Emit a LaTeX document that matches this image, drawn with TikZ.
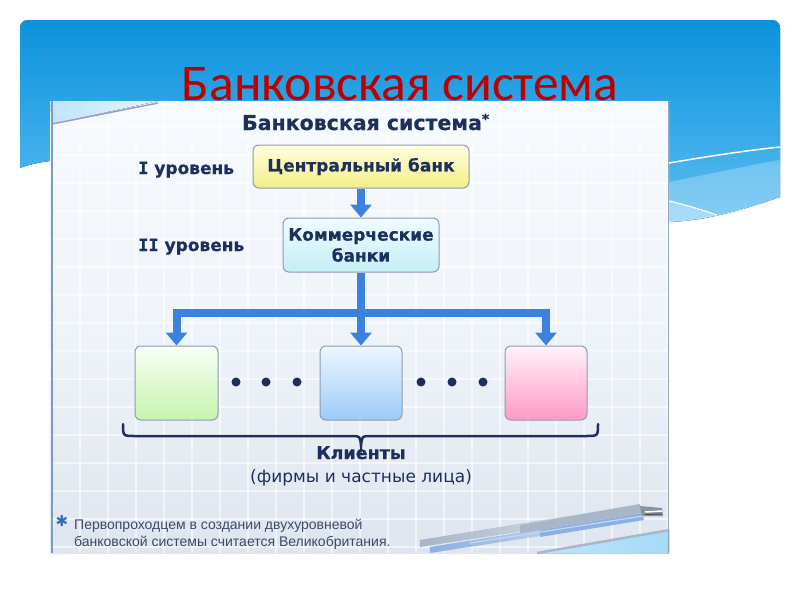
\documentclass[tikz,border=0pt]{standalone}
\usepackage{fontspec}
\setmainfont{DejaVu Sans}[BoldFeatures={FakeBold=0.6}]
\newfontfamily\carl{Carlito}
\newfontfamily\libs{Liberation Sans}
\newfontfamily\monob{DejaVu Sans Mono}[FakeBold=0.6]
\newfontfamily\djv{DejaVu Sans}
\usetikzlibrary{arrows.meta,fadings}
\definecolor{navy}{HTML}{1E2F5C}
\definecolor{bannertop}{HTML}{0B92DC}
\definecolor{bannerbot}{HTML}{5CBDF2}
\definecolor{titlered}{HTML}{BC0000}
\definecolor{arrowblue}{HTML}{3B82E0}
\definecolor{boxedge}{HTML}{8C9CB4}
\definecolor{panelbg}{HTML}{EFF4FA}
\definecolor{paneltop}{HTML}{F7FAFE}
\definecolor{panelbot}{HTML}{DFE5EE}
\definecolor{notecol}{HTML}{3C4A68}
\definecolor{ytop}{HTML}{FFFFDE}
\definecolor{ybot}{HTML}{F3EE86}
\definecolor{ctop}{HTML}{F0FCFF}
\definecolor{cbot}{HTML}{C4EEF7}
\definecolor{gtop}{HTML}{F8FFF4}
\definecolor{gbot}{HTML}{C6F4AE}
\definecolor{btop}{HTML}{EEF6FF}
\definecolor{bbot}{HTML}{9CCBF8}
\definecolor{ptop}{HTML}{FFF2F8}
\definecolor{pbot}{HTML}{FF99C6}
\definecolor{pengrey}{HTML}{A9B6C8}
\definecolor{penblue}{HTML}{6E9CDA}
\newcommand\bannerpath{(20,168) [rounded corners=8pt] -- (20,20) -- (780,20) [sharp corners] -- (780,197) .. controls (735,213) and (700,221) .. (668,222) -- (60,160) .. controls (45,161) and (30,164) .. (20,168) -- cycle}
\tikzset{
  boxbase/.style={draw=boxedge, line width=1pt, rounded corners=6pt, inner sep=0pt, text=navy,
    font=\bfseries\fontsize{17}{21}\selectfont, align=center},
  lvl/.style={font=\bfseries\fontsize{17}{20}\selectfont, text=navy, anchor=base west, inner sep=0pt},
  bline/.style={line width=8pt, color=arrowblue, line join=miter},
  barrow/.style={bline, -{Triangle[width=21pt,length=13pt]}},
  dotmark/.style={fill=navy},
}
\begin{document}
\begin{tikzpicture}[x=1pt,y=-1pt]
\useasboundingbox (0,0) rectangle (800,600);
\fill[white] (0,0) rectangle (800,600);
% banner
\fill[top color=bannertop, bottom color=bannerbot] \bannerpath;
\begin{scope}
  \clip \bannerpath;
  \fill[white, fill opacity=0.25] (669,182) .. controls (720,172) and (750,165) .. (780,160) -- (780,230) -- (669,230) -- cycle;
  \fill[white, fill opacity=0.3] (669,201) .. controls (690,206) and (705,211) .. (717,215) .. controls (740,210) and (760,204) .. (780,197) -- (780,230) -- (669,230) -- cycle;
  \draw[white, line width=1.5pt] (669,163) .. controls (710,156) and (750,150) .. (780,147);
  \draw[white, line width=1.2pt] (669,201) .. controls (690,206) and (705,211) .. (717,215);
\end{scope}
% main title
\node[font=\carl\fontsize{51.5}{56}\selectfont, text=titlered, anchor=base, inner sep=0pt] (title) at (400,100) {Банковская система};
% panel
\fill[top color=paneltop, bottom color=panelbot, middle color=panelbg] (50,101) rectangle (669,553);
\begin{scope}
  \clip (50,101) rectangle (669,553);
  \foreach \gx in {80,108,...,669} \draw[white, line width=1.3pt, opacity=0.55] (\gx,101) -- (\gx,553);
  \foreach \gy in {127,155,...,553} \draw[white, line width=1.3pt, opacity=0.55] (50,\gy) -- (669,\gy);
  % bottom right corner
  \fill[left color=white!60!bannerbot, right color=bannerbot!55!white] (537,553) -- (670,530) -- (670,553) -- cycle;
  \draw[color=pengrey, line width=2.5pt] (537,553) -- (670,530);
  % pen
  \fill[pengrey, path fading=east] (420,540) -- (640,504) -- (642,513) -- (420,547) -- cycle;
  \fill[pengrey] (520,525) -- (640,504) -- (642,513) -- (520,533) -- cycle;
  \fill[penblue!80!white, path fading=east] (430,547) -- (642,513) -- (644,520) -- (430,553) -- cycle;
  \fill[penblue!80!white] (540,530) -- (642,513) -- (644,520) -- (540,537) -- cycle;
  \draw[white!60!penblue, line width=1.2pt] (470,543) -- (643,516);
  \fill[pengrey!80!black] (640,506) -- (662,508) -- (663,516) -- (642,516) -- cycle;
  \draw[white, line width=1.5pt] (645,512) -- (662,511);
  \draw[black!70, line width=1pt] (645,514.5) -- (662,514);
  % top-left fold
  \fill[left color=white!60!bannerbot, right color=white!85!bannerbot] (50,101) -- (158,101) -- (52,124) -- cycle;
  \draw[color=gray!70!blue!60, line width=1.5pt] (52,124) -- (158,103);
\end{scope}
\draw[draw=arrowblue!50!gray!80, line width=2pt] (52,101) -- (52,553);
\draw[draw=arrowblue!40!gray!70, line width=1pt] (668.5,101) -- (668.5,553);
% diagram
\node[font=\bfseries\fontsize{20.5}{24}\selectfont, text=navy, anchor=base, inner sep=0pt] (ptitle) at (362,130) {Банковская система\rlap{\raisebox{6pt}{\fontsize{14}{14}\selectfont*}}};
\node[lvl] (l1) at (138,174) {{\monob I} уровень};
\node[lvl] (l2) at (138,251) {{\monob II} уровень};
\node[boxbase, minimum width=216pt, minimum height=43pt, top color=ytop, bottom color=ybot] (cb) at (361,166.5) {Центральный банк};
\node[boxbase, minimum width=156pt, minimum height=54pt, top color=ctop, bottom color=cbot] (b2) at (361,245) {Коммерческие\\банки};
\node[boxbase, minimum width=83pt, minimum height=74pt, top color=gtop, bottom color=gbot] (gbox) at (176.5,383) {};
\node[boxbase, minimum width=82pt, minimum height=74pt, top color=btop, bottom color=bbot] (bbox) at (361,383) {};
\node[boxbase, minimum width=82pt, minimum height=74pt, top color=ptop, bottom color=pbot] (rbox) at (546,383) {};
\coordinate (jM) at (361,313);
\draw[barrow] (cb.south) -- (b2.north);
\draw[bline] (b2.south) -- (jM);
\draw[barrow] (jM) -| (gbox.north);
\draw[barrow] (jM) -| (rbox.north);
\draw[barrow] (jM) -- (bbox.north);
\foreach \dx in {236,266,297,421,452,483} \fill[dotmark] (\dx,382) circle (4.5pt);
\draw[navy, line width=2.5pt, line cap=round] (123,424) .. controls (123,436) .. (135,436) -- (352,436) .. controls (360,436) .. (361,446) .. controls (362,436) .. (370,436) -- (586,436) .. controls (598,436) .. (598,424);
\node[font=\bfseries\fontsize{17.5}{20}\selectfont, text=navy, anchor=base, inner sep=0pt] (cl) at (361,459) {Клиенты};
\node[font=\fontsize{17}{20}\selectfont, text=navy, anchor=base, inner sep=0pt] (cl2) at (361,482) {(фирмы и частные лица)};
\node[font=\djv\fontsize{15}{15}\selectfont, text=arrowblue!75!navy, anchor=center, inner sep=0pt] (ast) at (62,521) {✱};
\node[font=\libs\fontsize{14}{17}\selectfont, text=notecol, anchor=base west, inner sep=0pt] (n1) at (74,529) {Первопроходцем в создании двухуровневой};
\node[font=\libs\fontsize{14}{17}\selectfont, text=notecol, anchor=base west, inner sep=0pt] (n2) at (74,546) {банковской системы считается Великобритания.};
\end{tikzpicture}
\end{document}
